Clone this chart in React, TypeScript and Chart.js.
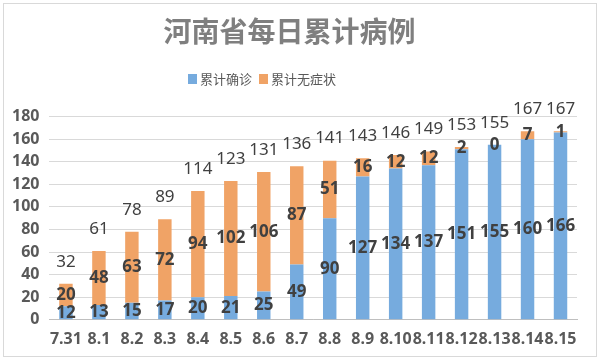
import React, { useEffect, useRef } from "react";
import { Chart, registerables } from "chart.js";

Chart.register(...registerables);

const categories = ["7.31", "8.1", "8.2", "8.3", "8.4", "8.5", "8.6", "8.7", "8.8", "8.9", "8.10", "8.11", "8.12", "8.13", "8.14", "8.15"];
const confirmed = [12, 13, 15, 17, 20, 21, 25, 49, 90, 127, 134, 137, 151, 155, 160, 166];
const asymptomatic = [20, 48, 63, 72, 94, 102, 106, 87, 51, 16, 12, 12, 2, 0, 7, 1];
const totals = [32, 61, 78, 89, 114, 123, 131, 136, 141, 143, 146, 149, 153, 155, 167, 167];
const yTicks = [0, 20, 40, 60, 80, 100, 120, 140, 160, 180];
const seriesNames = ["累计确诊", "累计无症状"];
const seriesColors = ["#76abde", "#f0a366"];

const FONT = "'Noto Sans', 'Noto Sans CJK SC', sans-serif";
const CJK = "'Noto Sans CJK SC', sans-serif";

const labelPlugin = {
  id: "valueLabels",
  beforeDraw(chart: any) {
    const ctx = chart.ctx;
    ctx.save();
    ctx.fillStyle = "#ffffff";
    ctx.fillRect(0, 0, chart.width, chart.height);
    ctx.strokeStyle = "#d9d9d9";
    ctx.lineWidth = 1;
    ctx.strokeRect(3.5, 3.5, chart.width - 7, chart.height - 9);
    ctx.restore();
  },
  afterDatasetsDraw(chart: any) {
    const ctx = chart.ctx;
    ctx.save();
    ctx.textAlign = "center";
    ctx.textBaseline = "middle";
    ctx.fillStyle = "#404040";
    ctx.font = `bold 17px ${FONT}`;
    chart.data.datasets.forEach((ds: any, di: number) => {
      const meta = chart.getDatasetMeta(di);
      meta.data.forEach((bar: any, i: number) => {
        const yc = (bar.y + bar.base) / 2;
        ctx.fillText(String(ds.data[i]), bar.x, yc);
      });
    });
    ctx.font = `17px ${FONT}`;
    const top = chart.getDatasetMeta(1);
    const yScale = chart.scales.y;
    top.data.forEach((bar: any, i: number) => {
      const y = yScale.getPixelForValue(totals[i]);
      ctx.fillText(String(totals[i]), bar.x, y - 22);
    });
    // legend
    ctx.font = `13px ${CJK}`;
    ctx.textAlign = "left";
    let x = 188;
    const ly = 79;
    seriesNames.forEach((name, i) => {
      ctx.fillStyle = seriesColors[i];
      ctx.fillRect(x, ly - 5, 9, 10);
      ctx.fillStyle = "#595959";
      ctx.fillText(name, x + 12, ly);
      x += 12 + ctx.measureText(name).width + 7;
    });
    ctx.restore();
  },
};

export default function App() {
  const ref = useRef<HTMLCanvasElement>(null);
  useEffect(() => {
    document.body.style.margin = "0";
    const chart = new Chart(ref.current!, {
      type: "bar",
      data: {
        labels: categories,
        datasets: [
          { label: seriesNames[0], data: confirmed, backgroundColor: seriesColors[0], barPercentage: 0.8, categoryPercentage: 0.51 },
          { label: seriesNames[1], data: asymptomatic, backgroundColor: seriesColors[1], barPercentage: 0.8, categoryPercentage: 0.51 },
        ],
      },
      options: {
        animation: false,
        responsive: false,
        maintainAspectRatio: false,
        layout: { padding: { left: 2, right: 23, top: 0, bottom: 3 } },
        plugins: {
          title: {
            display: true,
            text: "河南省每日累计病例",
            color: "#7f7f7f",
            font: { family: CJK, size: 28, weight: "bold" },
            padding: { top: 15, bottom: 68 },
          },
          legend: { display: false },
          tooltip: { enabled: false },
        },
        scales: {
          x: {
            stacked: true,
            grid: { display: false, drawTicks: false },
            border: { color: "#bfbfbf", width: 1 },
            ticks: { color: "#595959", font: { family: FONT, size: 16, weight: "bold" }, maxRotation: 0, minRotation: 0, autoSkip: false, padding: 10 },
          },
          y: {
            stacked: true,
            min: 0,
            max: 180,
            afterBuildTicks: (s: any) => { s.ticks = yTicks.map((v) => ({ value: v })); },
            grid: { color: "#d9d9d9", drawTicks: false },
            border: { display: false },
            ticks: { color: "#595959", font: { family: FONT, size: 16, weight: "bold" }, padding: 10, autoSkip: false },
          },
        },
      },
      plugins: [labelPlugin],
    });
    return () => chart.destroy();
  }, []);
  return (
    <div style={{ position: "absolute", left: 0, top: 0, width: 600, height: 362 }}>
      <canvas ref={ref} width={600} height={362} />
    </div>
  );
}
